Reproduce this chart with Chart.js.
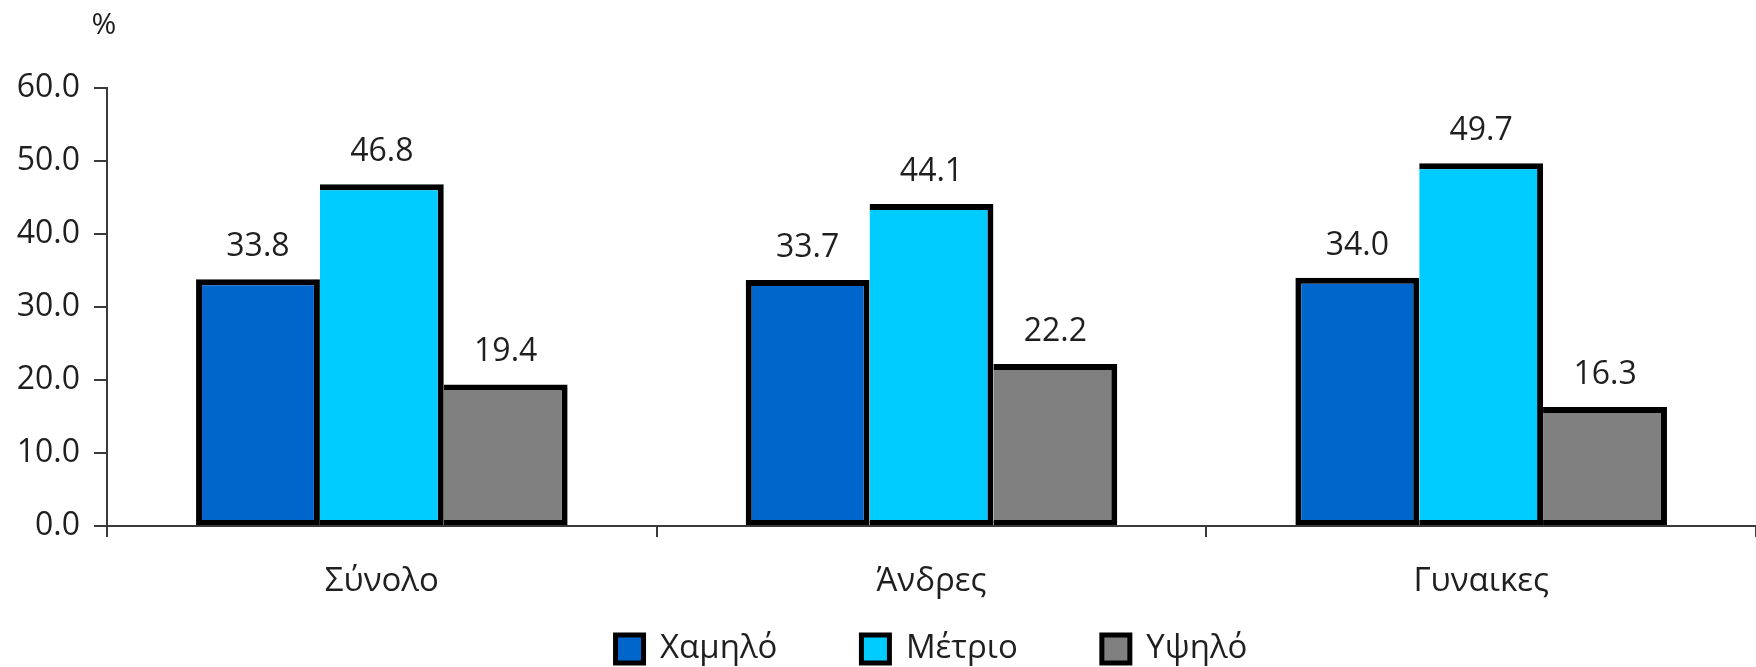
<!DOCTYPE html>
<html>
<head>
<meta charset="utf-8">
<script src="https://cdn.jsdelivr.net/npm/chart.js@4.4.1/dist/chart.umd.min.js"></script>
<style>
html,body{margin:0;padding:0;background:#fff;overflow:hidden;}
#wrap{width:1756px;height:667px;position:relative;}
</style>
</head>
<body>
<div id="wrap"><canvas id="c" width="1756" height="667"></canvas></div>
<script>
const categories = ["Σύνολο", "Άνδρες", "Γυναικες"];
const seriesNames = ["Χαμηλό", "Μέτριο", "Υψηλό"];
const lowValues = [33.8, 33.7, 34.0];
const mediumValues = [46.8, 44.1, 49.7];
const highValues = [19.4, 22.2, 16.3];
const seriesColors = ["#0066CC", "#00CCFF", "#808080"];
const yUnit = "%";

const FONT = "'Open Sans', sans-serif";
const TEXT = "#1f1f1f";
const AXIS = "#3a3a3a";
const LEGEND_CENTER_Y = 649;

const valueLabels = {
  id: 'valueLabels',
  afterLayout(chart) {
    // place the legend row at the reference height
    const lg = chart.legend;
    if (lg) {
      const pad = lg.options.labels.padding;
      const itemH = Math.max(lg.options.labels.boxHeight, lg.options.labels.font.size);
      const h = lg.height;
      lg.top = LEGEND_CENTER_Y - itemH / 2 - pad;
      lg.bottom = lg.top + h;
    }
  },
  afterDatasetsDraw(chart) {
    const ctx = chart.ctx;
    ctx.save();
    ctx.font = "32px " + FONT;
    ctx.fillStyle = TEXT;
    ctx.textAlign = 'center';
    ctx.textBaseline = 'alphabetic';
    chart.data.datasets.forEach((ds, i) => {
      chart.getDatasetMeta(i).data.forEach((bar, j) => {
        ctx.fillText(ds.data[j].toFixed(1), bar.x, bar.y - 23);
      });
    });
    const y = chart.scales.y;
    ctx.textAlign = 'center';
    ctx.textBaseline = 'middle';
    ctx.font = "30px " + FONT;
    ctx.fillText(yUnit, y.right - 3, 25);
    ctx.restore();
  }
};

const firstBorder = { top: 6, left: 6, right: 6, bottom: 5 };
const nextBorder = { top: 6, left: 0, right: 6, bottom: 5 };

new Chart(document.getElementById('c'), {
  type: 'bar',
  data: {
    labels: categories,
    datasets: [
      { label: seriesNames[0], data: lowValues, backgroundColor: seriesColors[0], borderWidth: firstBorder },
      { label: seriesNames[1], data: mediumValues, backgroundColor: seriesColors[1], borderWidth: nextBorder },
      { label: seriesNames[2], data: highValues, backgroundColor: seriesColors[2], borderWidth: nextBorder }
    ].map(d => Object.assign(d, { borderColor: '#000', borderSkipped: false }))
  },
  options: {
    responsive: false,
    animation: false,
    devicePixelRatio: 1,
    datasets: { bar: { categoryPercentage: 0.676, barPercentage: 1.0 } },
    layout: { padding: { top: 88, right: -7, bottom: -64, left: 0 } },
    plugins: {
      legend: {
        position: 'bottom',
        fullSize: false,
        labels: {
          font: { family: FONT, size: 33 },
          color: TEXT,
          boxWidth: 28,
          boxHeight: 28,
          padding: 84,
          generateLabels(chart) {
            return Chart.defaults.plugins.legend.labels.generateLabels(chart).map(it => {
              it.lineWidth = 5; it.strokeStyle = '#000'; return it;
            });
          }
        }
      },
      tooltip: { enabled: false },
      title: { display: false }
    },
    scales: {
      x: {
        afterFit(scale) { scale.height = 78; },
        grid: { display: true, drawOnChartArea: false, tickLength: 11, color: AXIS, lineWidth: 2, offset: true },
        border: { display: true, color: AXIS, width: 2 },
        ticks: { font: { family: FONT, size: 33 }, color: TEXT, padding: 25 }
      },
      y: {
        min: 0, max: 60,
        afterFit(scale) { scale.width = 107; },
        grid: { display: true, drawOnChartArea: false, tickLength: 13, color: AXIS, lineWidth: 2 },
        border: { display: true, color: AXIS, width: 2 },
        ticks: { stepSize: 10, font: { family: FONT, size: 32 }, color: TEXT, padding: 14,
                 callback: v => Number(v).toFixed(1) }
      }
    }
  },
  plugins: [valueLabels]
});
</script>
</body>
</html>
